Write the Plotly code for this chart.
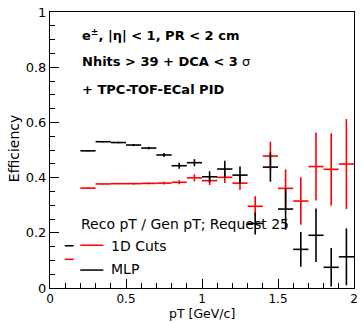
import plotly.graph_objects as go

# ---- data ----
pt_centers = [0.25, 0.35, 0.45, 0.55, 0.65, 0.75, 0.85, 0.95, 1.05,
              1.15, 1.25, 1.35, 1.45, 1.55, 1.65, 1.75, 1.85, 1.95]
bin_half_width = 0.05
mlp_eff = [0.497, 0.530, 0.527, 0.518, 0.507, 0.482, 0.443, 0.454, 0.403,
           0.431, 0.409, 0.234, 0.438, 0.286, 0.140, 0.191, 0.075, 0.113]
mlp_err = [0.002, 0.003, 0.003, 0.004, 0.005, 0.007, 0.011, 0.013, 0.020,
           0.030, 0.031, 0.040, 0.053, 0.075, 0.063, 0.097, 0.070, 0.103]
cuts_eff = [0.362, 0.377, 0.378, 0.378, 0.379, 0.380, 0.383, 0.399, 0.389,
            0.401, 0.380, 0.296, 0.478, 0.361, 0.315, 0.440, 0.430, 0.449]
cuts_err = [0.002, 0.002, 0.002, 0.003, 0.003, 0.005, 0.007, 0.013, 0.016,
            0.021, 0.025, 0.036, 0.052, 0.069, 0.086, 0.123, 0.131, 0.163]

x_ticks = [0, 0.5, 1, 1.5, 2]
x_tick_labels = ["0", "0.5", "1", "1.5", "2"]
y_ticks = [0, 0.2, 0.4, 0.6, 0.8, 1]
y_tick_labels = ["0", "0.2", "0.4", "0.6", "0.8", "1"]

series_names = ["1D Cuts", "MLP"]
series_colors = ["#ff0000", "#000000"]

FONT = "DejaVu Sans, Liberation Sans, Arial, sans-serif"

fig = go.Figure()


def add_series(y, err, color, name):
    fig.add_trace(go.Scatter(
        x=pt_centers, y=y, mode="markers", name=name, showlegend=False,
        marker=dict(size=2, color=color, opacity=0),
        error_x=dict(type="constant", value=bin_half_width, width=0,
                     thickness=1.6, color=color),
        error_y=dict(type="data", array=err, width=0, thickness=1.6,
                     color=color),
        cliponaxis=True,
    ))


add_series(cuts_eff, cuts_err, series_colors[0], series_names[0])
add_series(mlp_eff, mlp_err, series_colors[1], series_names[1])

axis_common = dict(
    showline=True, linecolor="black", linewidth=1, mirror=True,
    showgrid=False, zeroline=False,
    ticks="inside", tickcolor="black", ticklen=9, tickwidth=1,
)

fig.update_xaxes(range=[0, 2], tickvals=x_ticks, ticktext=x_tick_labels,
                 tickfont=dict(family=FONT, size=12, color="black"),
                 minor=dict(dtick=0.1, tick0=0, ticks="inside", ticklen=5,
                            tickcolor="black", tickwidth=1),
                 **axis_common)
fig.update_yaxes(range=[0, 1], tickvals=y_ticks, ticktext=y_tick_labels,
                 tickfont=dict(family=FONT, size=13, color="black"),
                 minor=dict(dtick=0.05, tick0=0, ticks="inside", ticklen=5,
                            tickcolor="black", tickwidth=1),
                 **axis_common)

annotations = [
    dict(x=0.2, y=0.917, xref="x", yref="y", xanchor="left", yanchor="middle",
         text="<b>e<sup>±</sup>, |η| < 1, PR < 2 cm</b>",
         font=dict(family=FONT, size=13, color="black"), showarrow=False),
    dict(x=0.2, y=0.822, xref="x", yref="y", xanchor="left", yanchor="middle",
         text="<b>Nhits > 39 + DCA < 3</b> σ",
         font=dict(family=FONT, size=13, color="black"), showarrow=False),
    dict(x=0.2, y=0.721, xref="x", yref="y", xanchor="left", yanchor="middle",
         text="<b>+ TPC-TOF-ECal PID</b>",
         font=dict(family=FONT, size=13, color="black"), showarrow=False),
    dict(x=0.188, y=0.232, xref="x", yref="y", xanchor="left", yanchor="middle",
         text="Reco pT / Gen pT; Request 25",
         font=dict(family=FONT, size=14, color="black"), showarrow=False),
    dict(x=0.39, y=0.152, xref="x", yref="y", xanchor="left", yanchor="middle",
         text=series_names[0],
         font=dict(family=FONT, size=14, color="black"), showarrow=False),
    dict(x=0.39, y=0.069, xref="x", yref="y", xanchor="left", yanchor="middle",
         text=series_names[1],
         font=dict(family=FONT, size=14, color="black"), showarrow=False),
    dict(x=1.0, y=-0.122, xref="x", yref="paper", xanchor="center",
         yanchor="bottom", text="pT [GeV/c]", borderpad=0,
         font=dict(family=FONT, size=12.5, color="black"), showarrow=False),
    dict(x=-0.12, y=0.505, xref="paper", yref="paper", xanchor="center",
         yanchor="middle", text="Efficiency", textangle=-90,
         font=dict(family=FONT, size=14, color="black"), showarrow=False),
]

shapes = [
    # legend line samples
    dict(type="line", xref="x", yref="y", x0=0.199, x1=0.351, y0=0.155,
         y1=0.155, line=dict(color=series_colors[0], width=1.5)),
    dict(type="line", xref="x", yref="y", x0=0.199, x1=0.351, y0=0.065,
         y1=0.065, line=dict(color=series_colors[1], width=1.5)),
    # small legend dashes
    dict(type="line", xref="x", yref="y", x0=0.097, x1=0.156, y0=0.153,
         y1=0.153, line=dict(color=series_colors[1], width=1.5)),
    dict(type="line", xref="x", yref="y", x0=0.097, x1=0.156, y0=0.104,
         y1=0.104, line=dict(color=series_colors[0], width=1.5)),
]

fig.update_layout(
    width=363, height=322,
    margin=dict(l=50, r=5, t=12, b=34, pad=0),
    paper_bgcolor="white", plot_bgcolor="white",
    showlegend=False,
    annotations=annotations, shapes=shapes,
    font=dict(family=FONT, color="black"),
)

fig.write_html("out.html")
